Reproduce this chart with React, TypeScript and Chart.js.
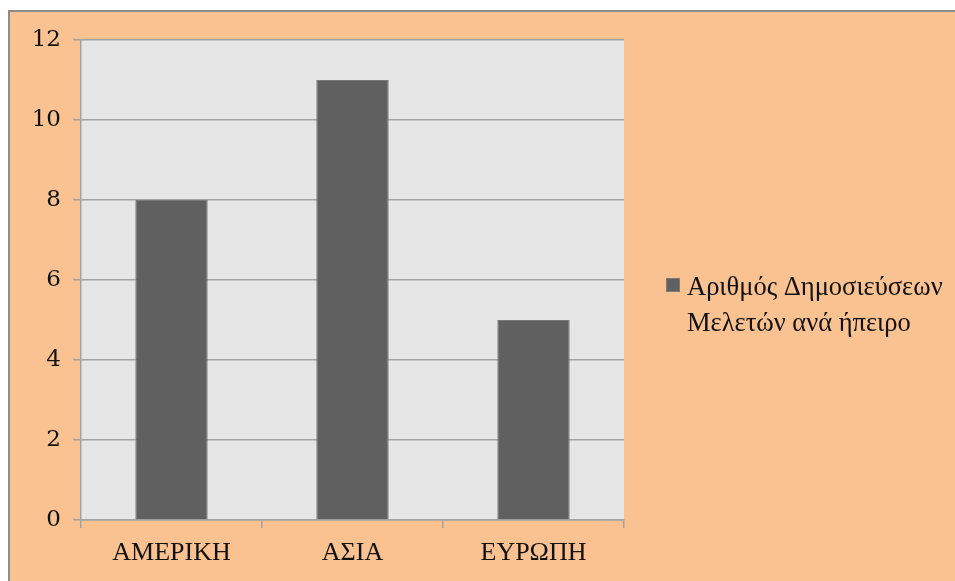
import React, { useEffect, useRef } from "react";
import { Chart, registerables } from "chart.js";

Chart.register(...registerables);

const continents = ["ΑΜΕΡΙΚΗ", "ΑΣΙΑ", "ΕΥΡΩΠΗ"];
const publications = [8, 11, 5];
const seriesLabel = "Αριθμός Δημοσιεύσεων Μελετών ανά ήπειρο";
const legendLines = ["Αριθμός Δημοσιεύσεων", "Μελετών ανά ήπειρο"];
const yTicks = [0, 2, 4, 6, 8, 10, 12];

const PAGE_BG = "#FAC191";
const PLOT_BG = "#E6E6E6";
const BAR_FILL = "#606060";
const BAR_EDGE = "#7a7a7a";
const GRID = "#a3a3a3";

const W = 945;
const H = 569;

// Fills the canvas and the plot area before anything else is drawn.
const backgrounds = {
  id: "backgrounds",
  beforeDraw(chart: any) {
    const { ctx, chartArea } = chart;
    ctx.save();
    ctx.fillStyle = PAGE_BG;
    ctx.fillRect(0, 0, chart.width, chart.height);
    ctx.fillStyle = PLOT_BG;
    ctx.fillRect(
      chartArea.left,
      chartArea.top,
      chartArea.right - chartArea.left,
      chartArea.bottom - chartArea.top
    );
    ctx.restore();
  },
};

// Two-line legend to the right of the plot.
const sideLegend = {
  id: "sideLegend",
  afterDraw(chart: any) {
    const { ctx, chartArea } = chart;
    const x0 = chartArea.right + 42;
    const y0 = 266;
    ctx.save();
    ctx.fillStyle = BAR_FILL;
    ctx.strokeStyle = BAR_EDGE;
    ctx.lineWidth = 1;
    ctx.fillRect(x0, y0, 14, 14);
    ctx.strokeRect(x0 + 0.5, y0 + 0.5, 13, 13);
    ctx.fillStyle = "#111";
    ctx.font = "26.5px 'Liberation Serif', serif";
    ctx.textBaseline = "alphabetic";
    ctx.textAlign = "left";
    legendLines.forEach((line, i) => {
      ctx.fillText(line, x0 + 21, y0 + 17 + i * 36);
    });
    ctx.restore();
  },
};

export default function App() {
  const ref = useRef<HTMLCanvasElement | null>(null);

  useEffect(() => {
    if (!ref.current) return;
    const chart = new Chart(ref.current, {
      type: "bar",
      data: {
        labels: continents,
        datasets: [
          {
            label: seriesLabel,
            data: publications,
            backgroundColor: BAR_FILL,
            borderColor: BAR_EDGE,
            borderWidth: 1,
            barPercentage: 0.4,
            categoryPercentage: 1,
          },
        ],
      },
      options: {
        responsive: false,
        animation: false,
        devicePixelRatio: 1,
        layout: { padding: { top: 28, right: 331, left: 0, bottom: 0 } },
        plugins: {
          legend: { display: false },
          tooltip: { enabled: false },
        },
        scales: {
          x: {
            offset: true,
            grid: {
              offset: true,
              drawOnChartArea: false,
              drawTicks: true,
              tickLength: 8,
              color: GRID,
              lineWidth: 1.5,
            },
            border: { display: true, color: GRID, width: 1.5 },
            ticks: {
              color: "#111",
              padding: 10,
              font: { family: "'Liberation Serif', serif", size: 26 },
            },
            afterFit(scale: any) {
              scale.height = 61;
            },
          },
          y: {
            min: 0,
            max: 12,
            afterBuildTicks(scale: any) {
              scale.ticks = yTicks.map((v) => ({ value: v }));
            },
            grid: {
              color: GRID,
              lineWidth: 1.5,
              tickLength: 8,
            },
            border: { display: true, color: GRID, width: 1.5 },
            ticks: {
              color: "#111",
              padding: 12,
              font: { family: "'DejaVu Serif', serif", size: 23 },
            },
            afterFit(scale: any) {
              scale.width = 71;
            },
          },
        },
      },
      plugins: [backgrounds, sideLegend],
    });
    return () => chart.destroy();
  }, []);

  return (
    <div
      style={{
        position: "fixed",
        left: 8,
        top: 10,
        width: W,
        height: H,
        borderTop: "2px solid #8c8c8c",
        borderLeft: "2px solid #8c8c8c",
        background: PAGE_BG,
      }}
    >
      <canvas ref={ref} width={W} height={H} style={{ display: "block" }} />
    </div>
  );
}
